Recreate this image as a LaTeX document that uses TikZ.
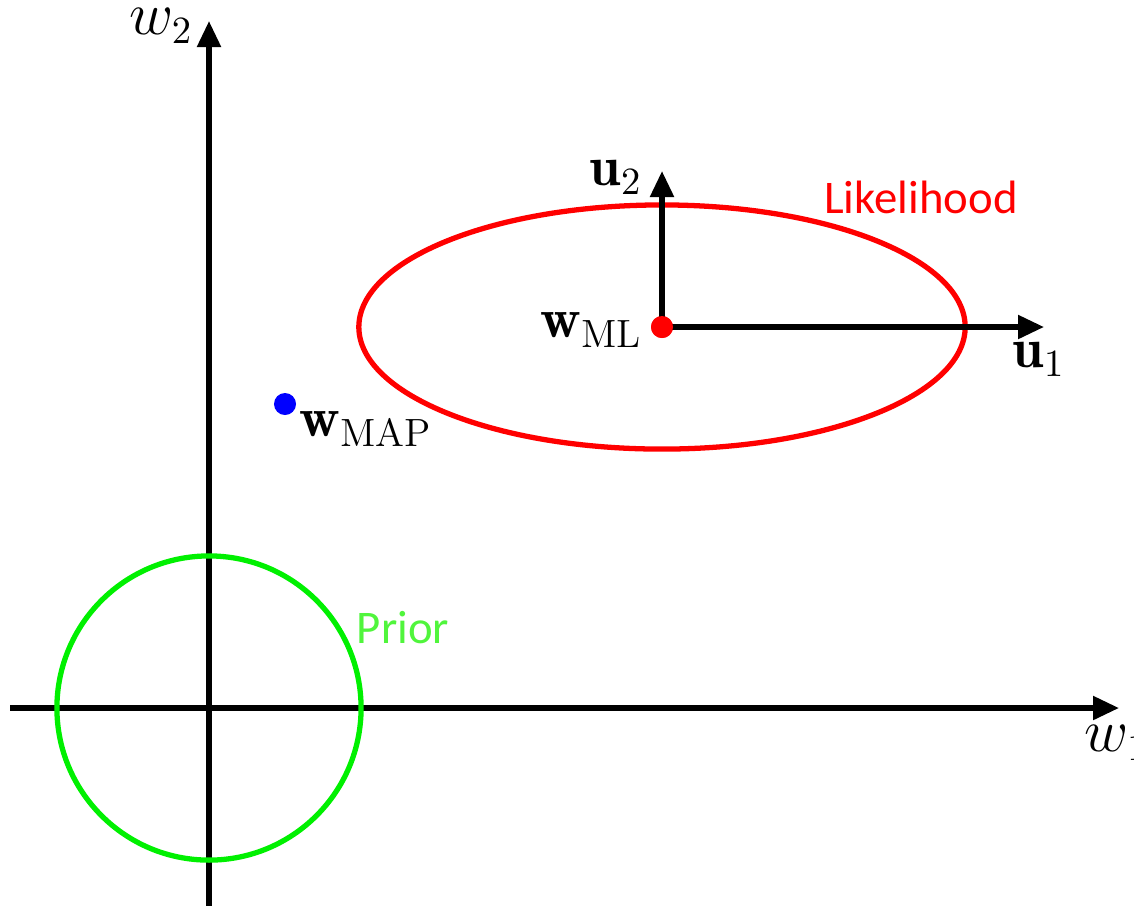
\documentclass[tikz,border=0pt]{standalone}
\usepackage{fontspec}
\newfontfamily\labelfont{Carlito}
\usepackage{amsmath}
\usetikzlibrary{arrows.meta,positioning}
\definecolor{verdePrior}{RGB}{0,240,0}
\definecolor{verdeTexto}{RGB}{80,245,60}
\tikzset{
  eixo/.style={line width=1.5pt, -{Triangle[length=2.6mm, width=2.3mm]}},
  seta/.style={line width=1.5pt, -{Triangle[length=2.6mm, width=2.3mm]}},
  ponto/.style={circle, inner sep=0pt, minimum size=0.22cm},
  rotulo/.style={inner sep=0pt, font=\fontsize{16}{18}\selectfont},
  texto/.style={inner sep=0pt, font=\fontsize{13.3}{15}\selectfont\labelfont},
}
\begin{document}
\begin{tikzpicture}[x=0.01cm, y=-0.01cm]
  \useasboundingbox (0,0) rectangle (1134,905);

  % eixos
  \coordinate (origem) at (209,708);
  \coordinate (xesq) at (10,708);
  \coordinate (xdir) at (1119,708);
  \coordinate (ybaixo) at (209,910);
  \coordinate (ytopo) at (209,21);
  \draw[eixo] (xesq) -- (xdir);
  \draw[eixo] (ybaixo) -- (ytopo);
  \node[rotulo, anchor=west] (w1) at (1084,743) {$w_1$};
  \node[rotulo] (w2) at (161,26) {$w_2$};

  % prior
  \draw[verdePrior, line width=1.5pt] (origem) circle [radius=1.52cm];
  \node[texto, text=verdeTexto] (prior) at (403,628) {Prior};

  % likelihood
  \coordinate (centro) at (662,327);
  \draw[red, line width=1.5pt] (centro) ellipse [x radius=3.03cm, y radius=1.22cm];
  \node[texto, text=red] (lik) at (921,197) {Likelihood};

  \node[ponto, fill=red] (wml) at (centro) {};
  \coordinate (u1topo) at (1044,327);
  \coordinate (u2topo) at (662,171);
  \draw[seta] (wml.center) -- (u1topo);
  \draw[seta] (wml.center) -- (u2topo);
  \node[ponto, fill=red] at (centro) {};
  \node[rotulo] (u1) at (1039,359) {$\mathbf{u}_1$};
  \node[rotulo] (u2) at (616,177) {$\mathbf{u}_2$};
  \node[rotulo, anchor=east] (lml) at (643,330) {$\mathbf{w}_{\mathrm{ML}}$};

  % MAP
  \node[ponto, fill=blue] (wmap) at (285,404) {};
  \node[rotulo] (lmap) at (366,429) {$\mathbf{w}_{\mathrm{MAP}}$};
\end{tikzpicture}
\end{document}
